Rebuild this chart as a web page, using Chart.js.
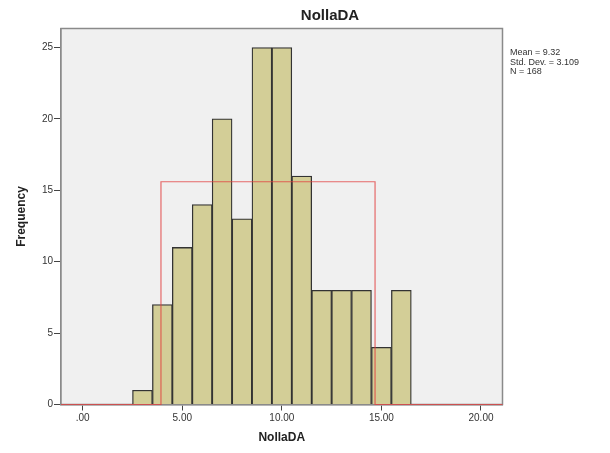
<!DOCTYPE html>
<html>
<head>
<meta charset="utf-8">
<script src="https://cdn.jsdelivr.net/npm/chart.js@4"></script>
<style>
  body { margin: 0; background: #fff; }
  #wrap { width: 610px; height: 453px; }
</style>
</head>
<body>
<div id="wrap"><canvas id="histChart" width="610" height="453"></canvas></div>
<script>
// histogram bins (bin centre) and counts
const binCentres = [3, 4, 5, 6, 7, 8, 9, 10, 11, 12, 13, 14, 15, 16];
const counts = [1, 7, 11, 14, 20, 13, 25, 25, 16, 8, 8, 8, 4, 8];

// red "normal" outline as SPSS drew it
const curveX = [-1.09, 3.93, 3.93, 14.68, 14.68, 21.08];
const curveY = [0, 0, 15.6, 15.6, 0, 0];

const xTickValues = [0, 5, 10, 15, 20];
const xTickLabels = ['.00', '5.00', '10.00', '15.00', '20.00'];
const yTickValues = [0, 5, 10, 15, 20, 25];

const chartTitle = 'NollaDA';
const xTitle = 'NollaDA';
const yTitle = 'Frequency';
const statsLines = ['Mean = 9.32', 'Std. Dev. = 3.109', 'N = 168'];

const FONT = 'Arial, "Liberation Sans", sans-serif';

const bgAndText = {
    id: 'bgAndText',
    beforeDatasetsDraw(chart) {
        const ctx = chart.ctx;
        const a = chart.chartArea;
        ctx.save();
        ctx.fillStyle = '#f0f0f0';
        ctx.fillRect(a.left, a.top, a.right - a.left, a.bottom - a.top);
        ctx.strokeStyle = '#8a8a8a';
        ctx.lineWidth = 1.5;
        ctx.strokeRect(a.left, a.top, a.right - a.left, a.bottom - a.top);
        ctx.restore();
    },
    afterDraw(chart) {
        const ctx = chart.ctx;
        ctx.save();
        ctx.fillStyle = '#222';
        ctx.font = 'bold 15px ' + FONT;
        ctx.textAlign = 'center';
        ctx.textBaseline = 'middle';
        ctx.fillText(chartTitle, 330, 16);

        ctx.fillStyle = '#333';
        ctx.font = '9px ' + FONT;
        ctx.textAlign = 'left';
        statsLines.forEach(function(s, i) {
            ctx.fillText(s, 510, 53 + i * 9.5);
        });
        ctx.restore();
    }
};

const chart = new Chart(document.getElementById('histChart').getContext('2d'), {
    type: 'bar',
    data: {
        datasets: [{
            type: 'line',
            label: 'curve',
            data: curveX.map((x, i) => ({ x: x, y: curveY[i] })),
            borderColor: 'rgba(225, 60, 60, 0.75)',
            borderWidth: 1.2,
            pointRadius: 0,
            fill: false,
            tension: 0,
            clip: false,
            order: 0
        }, {
            label: 'Frequency',
            data: binCentres.map((x, i) => ({ x: x, y: counts[i] })),
            backgroundColor: '#d3ce97',
            borderColor: '#333',
            borderWidth: 1.3,
            barPercentage: 1,
            categoryPercentage: 1,
            order: 1
        }]
    },
    options: {
        responsive: false,
        animation: false,
        layout: { padding: { left: 0, right: 107.5, top: 28.5, bottom: 0 } },
        plugins: {
            legend: { display: false },
            tooltip: { enabled: false },
            title: { display: false }
        },
        scales: {
            x: {
                type: 'linear',
                min: -1.09,
                max: 21.08,
                offset: false,
                afterFit(scale) { scale.height = 48.5; },
                afterBuildTicks(scale) {
                    scale.ticks = xTickValues.map(v => ({ value: v }));
                },
                ticks: {
                    autoSkip: false,
                    maxRotation: 0,
                    padding: 2,
                    color: '#333',
                    font: { family: FONT, size: 10 },
                    callback: function(value) {
                        const i = xTickValues.indexOf(value);
                        return i >= 0 ? xTickLabels[i] : '';
                    }
                },
                grid: { offset: false, drawOnChartArea: false, tickLength: 6, color: '#444', tickColor: '#444' },
                border: { display: true, color: '#8a8a8a', width: 1.5 },
                title: {
                    display: true,
                    text: xTitle,
                    color: '#222',
                    font: { family: FONT, size: 12, weight: 'bold' },
                    padding: { top: 0, bottom: 7.8 }
                }
            },
            y: {
                min: 0,
                max: 26.33,
                afterFit(scale) { scale.width = 61; },
                afterBuildTicks(scale) {
                    scale.ticks = yTickValues.map(v => ({ value: v }));
                },
                ticks: {
                    padding: 1,
                    color: '#333',
                    font: { family: FONT, size: 10 }
                },
                grid: { drawOnChartArea: false, tickLength: 7, color: '#444', tickColor: '#444' },
                border: { display: true, color: '#8a8a8a', width: 1.5 },
                title: {
                    display: true,
                    text: yTitle,
                    color: '#222',
                    font: { family: FONT, size: 12, weight: 'bold' },
                    padding: { top: 14.8, bottom: 0 }
                }
            }
        }
    },
    plugins: [bgAndText]
});
</script>
</body>
</html>
